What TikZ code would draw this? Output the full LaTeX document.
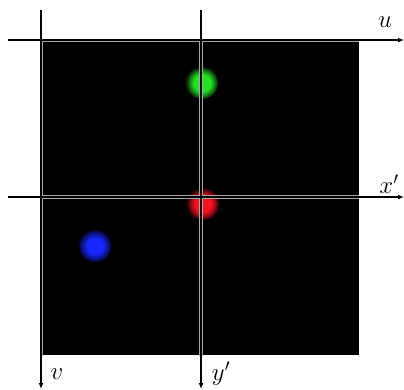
\documentclass[tikz,border=0pt]{standalone}
\usepackage{amsmath,amssymb}
\usepackage{tikz}
\usetikzlibrary{arrows.meta,positioning,calc}
\definecolor{spotgreen}{RGB}{30,230,30}
\definecolor{spotred}{RGB}{250,15,30}
\definecolor{spotblue}{RGB}{20,40,255}
\pgfdeclareradialshading{greenspot}{\pgfpoint{0bp}{0bp}}{color(0bp)=(spotgreen);color(13bp)=(spotgreen);color(19bp)=(spotgreen!60!black);color(24bp)=(spotgreen!20!black);color(30bp)=(black);color(50bp)=(black)}
\pgfdeclareradialshading{redspot}{\pgfpoint{0bp}{0bp}}{color(0bp)=(spotred);color(13bp)=(spotred);color(19bp)=(spotred!60!black);color(24bp)=(spotred!20!black);color(30bp)=(black);color(50bp)=(black)}
\pgfdeclareradialshading{bluespot}{\pgfpoint{0bp}{0bp}}{color(0bp)=(spotblue);color(12bp)=(spotblue);color(19bp)=(spotblue!60!black);color(25bp)=(spotblue!20!black);color(31bp)=(black);color(50bp)=(black)}

\begin{document}
\begin{tikzpicture}[
      x=1pt,y=-1pt,
      ax/.style={-{Latex[length=6pt,width=5pt]},line width=1.6pt},
      glow/.style={draw=gray!70,line width=4.2pt},
      lbl/.style={inner sep=0pt,font=\fontsize{26}{30}\selectfont}
    ]
    \useasboundingbox (0,0) rectangle (404,389);
    \fill[black] (41,40) rectangle (359,355);
    % blurred spots
    \shade[shading=greenspot] (202,83) circle (16);
    \shade[shading=redspot] (203,204) circle (16);
    \shade[shading=bluespot] (95,246) circle (16);
    % axes
    \coordinate (ustart) at (8,40);
    \coordinate (uend) at (404,40);
    \coordinate (vstart) at (41,10);
    \coordinate (vend) at (41,389);
    \coordinate (xstart) at (8,197);
    \coordinate (xend) at (404,197);
    \coordinate (ystart) at (201,10);
    \coordinate (yend) at (201,389);
    \begin{scope}
      \clip (41,40) rectangle (359,355);
      \draw[glow] (ustart) -- (uend);
      \draw[glow] (xstart) -- (xend);
      \draw[glow] (vstart) -- (vend);
      \draw[glow] (ystart) -- (yend);
    \end{scope}
    \draw[ax] (ustart) -- (uend);
    \draw[ax] (xstart) -- (xend);
    \draw[ax] (vstart) -- (vend);
    \draw[ax] (ystart) -- (yend);
    \node[lbl] (ulbl) at (385,22) {$u$};
    \node[lbl] (xlbl) at (389,184) {$x'$};
    \node[lbl] (vlbl) at (57,374) {$v$};
    \node[lbl] (ylbl) at (221,374) {$y'$};
  \end{tikzpicture}
\end{document}
